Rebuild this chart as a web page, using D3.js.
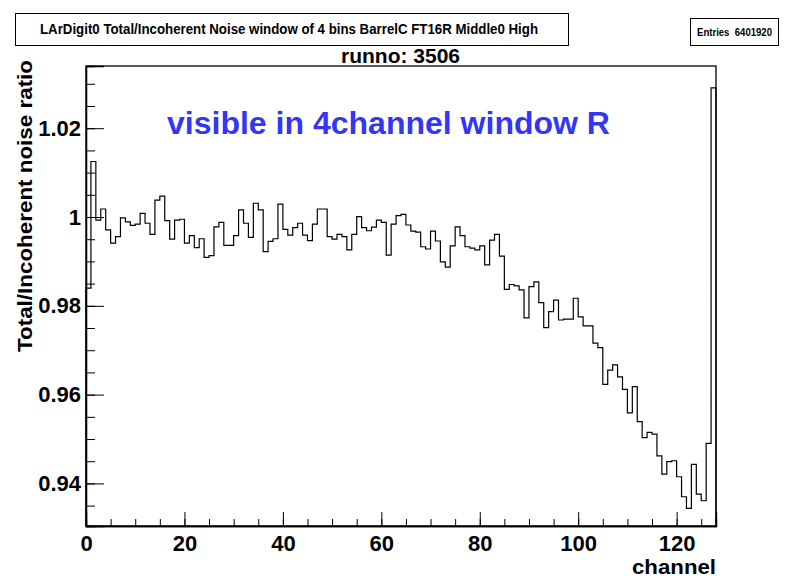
<!DOCTYPE html>
<html>
<head>
<meta charset="utf-8">
<script src="https://cdn.jsdelivr.net/npm/d3@7"></script>
<style>
  html, body { margin: 0; padding: 0; background: #fff; }
  svg { display: block; }
  text { font-family: "Liberation Sans", Arial, Helvetica, sans-serif; font-weight: bold; }
</style>
</head>
<body>
<svg id="chart" width="805" height="579"></svg>
<script>
// ---------------- data ----------------
const titleText = "LArDigit0 Total/Incoherent Noise window of 4 bins BarrelC FT16R Middle0 High";
const statsText = "Entries  6401920";
const runText = "runno: 3506";
const noteText = "visible in 4channel window R";
const xLabel = "channel";
const yLabel = "Total/Incoherent noise ratio";

const binValues = [
  0.9840, 1.0125, 0.9993, 1.0018, 0.9971, 0.9941, 0.9956, 0.9998, 0.9989, 0.9981,
  0.9984, 1.0008, 0.9986, 0.9961, 1.0038, 1.0047, 0.9992, 0.9950, 0.9993, 0.9995,
  0.9941, 0.9958, 0.9931, 0.9951, 0.9909, 0.9913, 0.9978, 0.9988, 0.9936, 0.9936,
  0.9958, 1.0016, 0.9986, 0.9954, 1.0031, 1.0016, 0.9922, 0.9945, 0.9951, 1.0029,
  0.9972, 0.9959, 0.9976, 0.9986, 0.9959, 0.9947, 0.9984, 1.0018, 1.0018, 0.9956,
  0.9950, 0.9961, 0.9956, 0.9926, 0.9961, 1.0001, 0.9976, 0.9969, 0.9977, 0.9993,
  0.9988, 0.9914, 0.9984, 1.0003, 1.0006, 0.9982, 0.9968, 0.9966, 0.9933, 0.9928,
  0.9968, 0.9946, 0.9899, 0.9887, 0.9935, 0.9978, 0.9958, 0.9933, 0.9930, 0.9926,
  0.9935, 0.9892, 0.9948, 0.9961, 0.9912, 0.9837, 0.9848, 0.9845, 0.9836, 0.9773,
  0.9843, 0.9854, 0.9807, 0.9751, 0.9787, 0.9813, 0.9768, 0.9770, 0.9770, 0.9817,
  0.9775, 0.9755, 0.9755, 0.9716, 0.9706, 0.9623, 0.9655, 0.9667, 0.9640, 0.9612,
  0.9559, 0.9618, 0.9539, 0.9503, 0.9515, 0.9511, 0.9462, 0.9421, 0.9449, 0.9451,
  0.9415, 0.9370, 0.9344, 0.9443, 0.9376, 0.9361, 0.9490, 1.0291
];
const xDomain = [0, 128];
const yDomain = [0.93041, 1.03401];
const xMajorTicks = [0, 20, 40, 60, 80, 100, 120];
const xMinorTicks = d3.range(0, 128, 5);
const yMajorTicks = [0.94, 0.96, 0.98, 1.00, 1.02];
const yMinorTicks = d3.range(0.935, 1.0341, 0.005);
const yTickLabels = ["0.94", "0.96", "0.98", "1", "1.02"];

// ---------------- layout ----------------
const plot = { left: 86, right: 716, top: 66, bottom: 526 };
const svg = d3.select("#chart");

const x = d3.scaleLinear().domain(xDomain).range([plot.left, plot.right]);
const y = d3.scaleLinear().domain(yDomain).range([plot.bottom, plot.top]);

// title pave
const tg = svg.append("g");
tg.append("rect").attr("x", 15.5).attr("y", 13.5).attr("width", 553).attr("height", 32)
  .attr("fill", "#fff").attr("stroke", "#000").attr("stroke-width", 1);
tg.append("text").attr("x", 289).attr("y", 34).attr("text-anchor", "middle")
  .attr("font-size", 14).attr("textLength", 498).attr("lengthAdjust", "spacingAndGlyphs")
  .text(titleText);

// stats pave
const sg = svg.append("g");
sg.append("rect").attr("x", 690.5).attr("y", 18.5).attr("width", 88).attr("height", 27)
  .attr("fill", "#fff").attr("stroke", "#000").attr("stroke-width", 1);
sg.append("text").attr("x", 734.5).attr("y", 36).attr("text-anchor", "middle")
  .attr("font-size", 10.5).attr("textLength", 75).attr("lengthAdjust", "spacingAndGlyphs")
  .style("white-space", "pre").text(statsText);

// run number
svg.append("text").attr("x", 400.5).attr("y", 63).attr("text-anchor", "middle")
  .attr("font-size", 21).attr("textLength", 119).attr("lengthAdjust", "spacingAndGlyphs")
  .text(runText);

// histogram
const pts = [[xDomain[0], yDomain[0]]];
binValues.forEach((v, i) => pts.push([i, v]));
pts.push([binValues.length, binValues[binValues.length - 1]]);
pts.push([binValues.length, yDomain[0]]);
const line = d3.line().x(d => x(d[0])).y(d => y(d[1])).curve(d3.curveStepAfter);
svg.append("path").attr("d", line(pts)).attr("fill", "none")
  .attr("stroke", "#000").attr("stroke-width", 1.2);

// frame
svg.append("rect").attr("x", plot.left).attr("y", plot.top)
  .attr("width", plot.right - plot.left).attr("height", plot.bottom - plot.top)
  .attr("fill", "none").attr("stroke", "#000").attr("stroke-width", 1.3);

// x axis (ticks inward)
const xMinor = d3.axisBottom(x).tickValues(xMinorTicks).tickSize(-7).tickFormat("");
const xMajor = d3.axisBottom(x).tickValues(xMajorTicks).tickSize(-14).tickPadding(9)
  .tickFormat(d3.format("d"));
const gxm = svg.append("g").attr("transform", `translate(0,${plot.bottom})`).call(xMinor);
const gx = svg.append("g").attr("transform", `translate(0,${plot.bottom})`).call(xMajor);
[gxm, gx].forEach(g => { g.select(".domain").attr("stroke", "#000").attr("stroke-width", 1.3);
  g.selectAll(".tick line").attr("stroke", "#000").attr("stroke-width", 1); });
gx.selectAll(".tick text").attr("font-size", 22).attr("fill", "#000")
  .attr("font-family", "Liberation Sans, Arial, sans-serif").attr("font-weight", "bold");

// y axis (ticks inward)
const yMinor = d3.axisLeft(y).tickValues(yMinorTicks).tickSize(-9).tickFormat("");
const yMajor = d3.axisLeft(y).tickValues(yMajorTicks).tickSize(-18).tickPadding(5)
  .tickFormat((d, i) => yTickLabels[i]);
const gym = svg.append("g").attr("transform", `translate(${plot.left},0)`).call(yMinor);
const gy = svg.append("g").attr("transform", `translate(${plot.left},0)`).call(yMajor);
[gym, gy].forEach(g => { g.select(".domain").attr("stroke", "#000").attr("stroke-width", 1.3);
  g.selectAll(".tick line").attr("stroke", "#000").attr("stroke-width", 1); });
gy.selectAll(".tick text").attr("font-size", 22).attr("fill", "#000")
  .attr("font-family", "Liberation Sans, Arial, sans-serif").attr("font-weight", "bold");

// axis titles
svg.append("text").attr("x", plot.right).attr("y", 574).attr("text-anchor", "end")
  .attr("font-size", 20).attr("textLength", 84).attr("lengthAdjust", "spacingAndGlyphs")
  .text(xLabel);
svg.append("text").attr("transform", `translate(32,206) rotate(-90)`)
  .attr("text-anchor", "middle").attr("font-size", 21)
  .attr("textLength", 292).attr("lengthAdjust", "spacingAndGlyphs").text(yLabel);

// annotation
svg.append("text").attr("x", 167).attr("y", 134)
  .attr("font-size", 31).attr("fill", "#3535f5")
  .attr("textLength", 443).attr("lengthAdjust", "spacingAndGlyphs").text(noteText);
</script>
</body>
</html>
